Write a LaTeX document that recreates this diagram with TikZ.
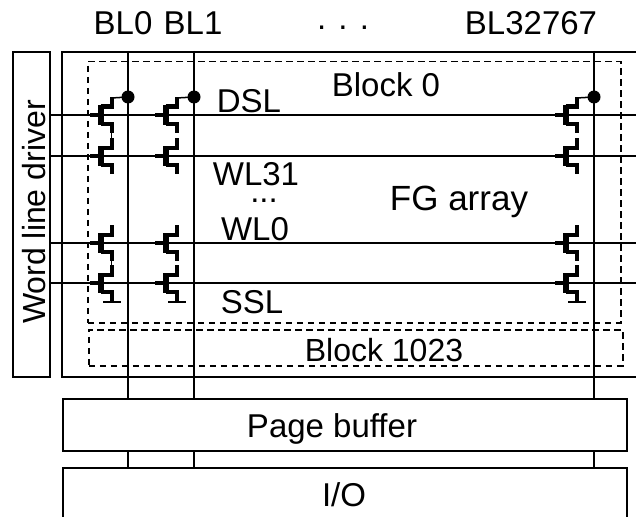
\documentclass[tikz,border=0pt]{standalone}
\usepackage{fontspec}
\setmainfont{Liberation Sans}
\usetikzlibrary{positioning}
\tikzset{x=1pt ,y=-1pt ,
wire/.style ={line width=2pt},
box/.style ={draw, wire, inner sep=0pt, anchor=north west},
blockbox/.style ={draw, dash pattern=on 6.5pt off 4.5pt, line width=1.5pt, anchor=north west, inner sep=0pt},
label/.style ={font=\fontsize{33}{33}\selectfont, inner sep=0pt, anchor=base},
fet/.pic ={
  \draw[line width=4pt] (-16,0) -- (-7,0);
  \draw[line width=6pt] (-5.5,-10) -- (-5.5,10);
  \draw[line width=4pt, line join=miter] (-5.5,-8.5) -- (5.5,-8.5) -- (5.5,-18);
  \draw[line width=4pt, line join=miter] (-5.5,8.5) -- (5.5,8.5) -- (5.5,18);
}}

\begin{document}
\begin{tikzpicture}
\useasboundingbox (0,0) rectangle (636,516);
% boxes
\node[box, minimum width=37pt, minimum height=325pt] (driver) at (12,51) {};
\node[box, minimum width=590pt, minimum height=325pt] (array) at (61,51) {};
\node[box, minimum width=564pt, minimum height=52pt] (pagebuf) at (62,398) {};
\node[box, minimum width=564pt, minimum height=60pt] (io) at (62,467) {};
\node[blockbox, minimum width=533pt, minimum height=261pt] (block0) at (87,61) {};
\node[blockbox, minimum width=534pt, minimum height=36pt] (blockn) at (88,329) {};
% bit lines
\node[label] (bl0) at (123,35) {BL0};
\node[label] (bl1) at (193,35) {BL1};
\node[label] (bldots) at (343,30) {. . .};
\node[label] (bln) at (531,35) {BL32767};
\foreach \name/\xx in {0/128,1/194,2/594} {
  \fill (\xx,97) circle (6.5pt) coordinate (dot\name);
  \draw[wire] (dot\name |- array.north) -- (dot\name |- pagebuf.north);
  \draw[wire] (dot\name |- pagebuf.south) -- (dot\name |- io.north);
}
% word lines
\foreach \name/\yy in {dsl/115,top/156,bot/243,ssl/283} {
  \coordinate (w\name) at (636,\yy);
  \draw[wire] (driver.east |- w\name) -- (w\name);
}
% cells
\foreach \name/\xx in {0/106,1/171,2/571} {
  \foreach \rname in {dsl,top,bot,ssl}
    \pic at (\xx,0 |- w\rname) {fet};
  \draw[line width=1.5pt] (\xx+5.5,98) -- (dot\name);
  \draw[line width=1.5pt] (\xx-3,302) -- (\xx+15,302);
}
\draw[line width=1.5pt] (111.5,132) -- (111.5,139);
\draw[line width=1.5pt] (111.5,260) -- (111.5,268);
% labels
\node[label] (dsl) at (249,112) {DSL};
\node[label] (blk0) at (386,97) {Block 0};
\node[label] (wl31) at (256,185) {WL31};
\node[label] (vdots) at (264,202) {...};
\node[label, font=\fontsize{35}{35}\selectfont] (fg) at (459,210) {FG array};
\node[label] (wl0) at (255,240) {WL0};
\node[label] (ssl) at (252,313) {SSL};
\node[label, font=\fontsize{32}{32}\selectfont] (blk1023) at (384,361) {Block 1023};
\node[label] (page) at (332,437) {Page buffer};
\node[label] (iotext) at (344,506) {I/O};
\node[label, rotate=90, font=\fontsize{32}{32}\selectfont] (drvtext) at (45,212) {Word line driver};
\end{tikzpicture}
\end{document}
